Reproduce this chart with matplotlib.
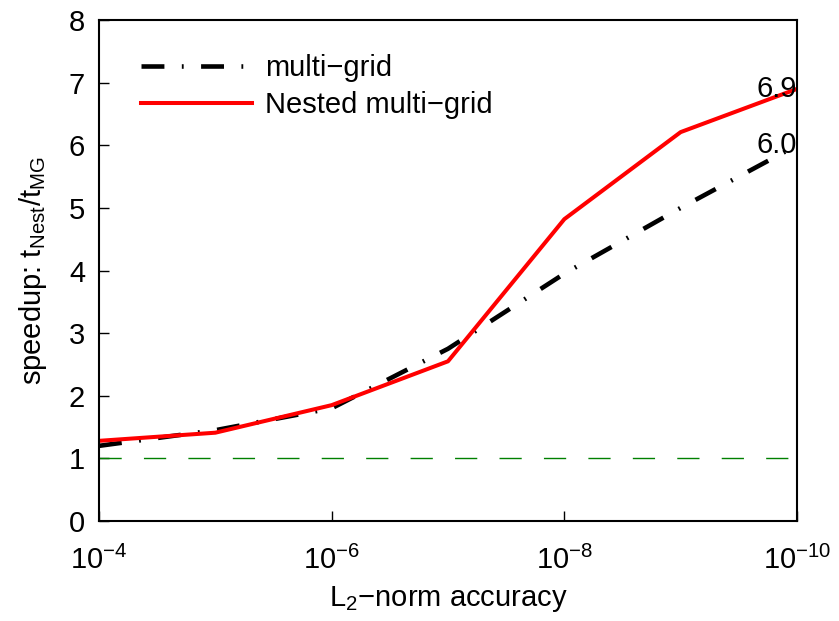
import numpy as np
import matplotlib.pyplot as plt

plt.rcParams['font.family'] = ['Liberation Sans', 'DejaVu Sans']
plt.rcParams['mathtext.fontset'] = 'custom'
plt.rcParams['mathtext.rm'] = 'Liberation Sans'

# L2-norm accuracy levels and measured speedups
accuracy = [1e-4, 1e-5, 1e-6, 1e-7, 1e-8, 1e-9, 1e-10]
mg_speedup = [1.2, 1.45, 1.8, 2.75, 3.95, 5.0, 6.0]
nested_speedup = [1.28, 1.41, 1.85, 2.55, 4.82, 6.21, 6.9]

fs = 21

fig = plt.figure(figsize=(8.39, 6.21), dpi=100)
ax = fig.add_axes([99/839, 100/621, 698/839, 501/621])

ax.plot(accuracy, mg_speedup, color='black', lw=3.3,
        dashes=(5.0, 3.8, 0.4, 3.8), label='multi\u2212grid')
ax.plot(accuracy, nested_speedup, color='red', lw=2.9,
        label='Nested multi\u2212grid')
ax.axhline(1, color='#008000', lw=1.0, dashes=(16, 16))

# final speedup values
ax.text(accuracy[-1], nested_speedup[-1], '%.1f' % nested_speedup[-1],
        ha='right', va='center', fontsize=fs)
ax.text(accuracy[-1], mg_speedup[-1], '%.1f' % mg_speedup[-1],
        ha='right', va='center', fontsize=fs)

ax.set_xscale('log')
ax.set_xlim(1e-4, 1e-10)
ax.set_ylim(0, 8)
ax.set_xticks([1e-4, 1e-6, 1e-8, 1e-10])
ax.set_xticklabels(['$\\mathregular{10^{-4}}$', '$\\mathregular{10^{-6}}$',
                    '$\\mathregular{10^{-8}}$', '$\\mathregular{10^{-10}}$'])
ax.minorticks_off()
ax.set_yticks(range(0, 9))
ax.tick_params(direction='in', labelsize=fs, length=7, width=1)
ax.tick_params(axis='x', pad=18)
ax.tick_params(axis='y', pad=10)
for s in ax.spines.values():
    s.set_linewidth(1.5)

ax.set_xlabel('$\\mathregular{L_2}$\u2212norm accuracy', fontsize=fs, labelpad=6)
ax.set_ylabel('speedup: $\\mathregular{t_{Nest}/t_{MG}}$', fontsize=fs, labelpad=14)

ax.legend(loc='upper left', frameon=False, fontsize=fs, handlelength=3.8,
          handletextpad=0.45, bbox_to_anchor=(0.043, 0.955), borderaxespad=0,
          labelspacing=0.3)

fig.savefig('out.png', dpi=100)
